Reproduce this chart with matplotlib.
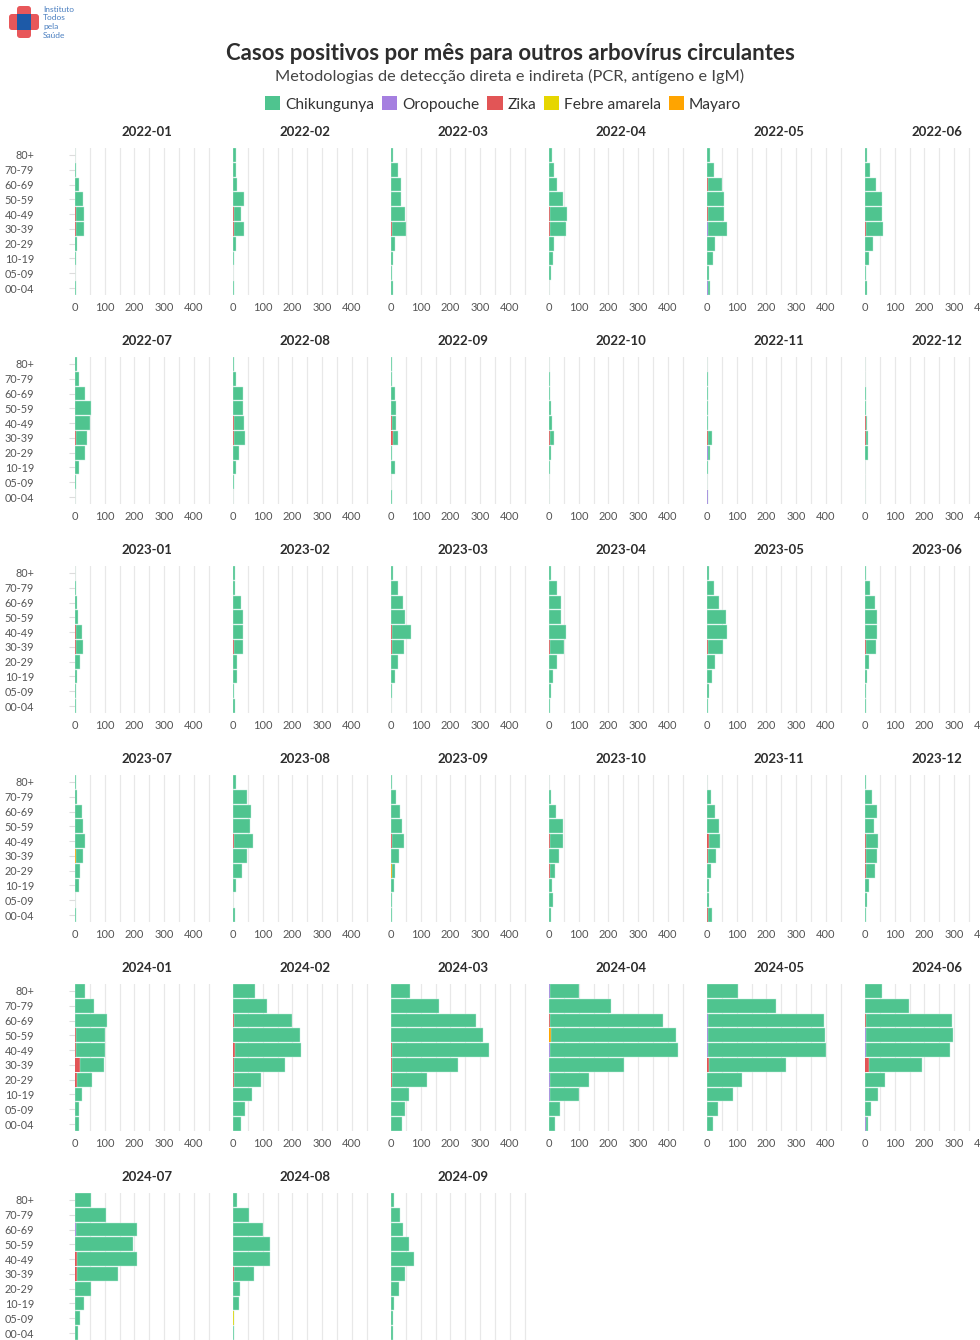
import matplotlib
matplotlib.use("Agg")
import matplotlib.pyplot as plt
from matplotlib.patches import FancyBboxPatch, Patch, Rectangle

plt.rcParams['font.family'] = ['Lato', 'DejaVu Sans']

# ---------------- data ----------------
AGES = ['80+', '70-79', '60-69', '50-59', '40-49', '30-39', '20-29', '10-19', '05-09', '00-04']
MONTHS = ['2022-01', '2022-02', '2022-03', '2022-04', '2022-05', '2022-06',
          '2022-07', '2022-08', '2022-09', '2022-10', '2022-11', '2022-12',
          '2023-01', '2023-02', '2023-03', '2023-04', '2023-05', '2023-06',
          '2023-07', '2023-08', '2023-09', '2023-10', '2023-11', '2023-12',
          '2024-01', '2024-02', '2024-03', '2024-04', '2024-05', '2024-06',
          '2024-07', '2024-08', '2024-09']

CHIKUNGUNYA = [
    [1, 3, 15, 28, 28, 26, 7, 4, 0, 3],
    [10, 10, 14, 37, 25, 33, 9, 4, 1, 3],
    [6, 22, 32, 32, 48, 49, 14, 8, 4, 6],
    [10, 18, 28, 48, 60, 55, 18, 12, 6, 1],
    [10, 22, 49, 56, 53, 65, 28, 20, 6, 8],
    [6, 16, 36, 58, 58, 57, 26, 12, 2, 6],
    [6, 14, 32, 54, 52, 40, 33, 14, 2, 1],
    [2, 10, 34, 32, 36, 35, 20, 10, 2, 1],
    [4, 2, 14, 18, 15, 18, 2, 12, 0, 4],
    [0, 2, 4, 6, 10, 13, 6, 4, 1, 1],
    [0, 4, 4, 3, 4, 13, 7, 2, 0, 2],
    [0, 0, 2, 4, 3, 7, 10, 0, 0, 1],
    [1, 2, 8, 10, 21, 24, 16, 6, 2, 2],
    [8, 6, 26, 34, 34, 29, 12, 14, 2, 6],
    [6, 22, 42, 46, 64, 42, 22, 12, 4, 1],
    [6, 26, 42, 42, 56, 47, 26, 12, 8, 4],
    [8, 24, 42, 64, 66, 52, 25, 16, 6, 2],
    [4, 16, 32, 42, 40, 36, 14, 6, 4, 2],
    [2, 6, 24, 28, 32, 24, 16, 12, 1, 2],
    [10, 46, 60, 58, 63, 46, 30, 10, 1, 8],
    [4, 16, 30, 36, 41, 26, 10, 10, 4, 4],
    [1, 8, 24, 46, 43, 34, 17, 10, 14, 6],
    [0, 12, 26, 42, 38, 28, 11, 8, 6, 14],
    [2, 24, 42, 30, 41, 38, 32, 12, 8, 4],
    [33, 65, 108, 96, 95, 79, 48, 25, 12, 12],
    [74, 116, 194, 226, 222, 169, 90, 64, 40, 28],
    [65, 160, 287, 309, 326, 220, 118, 61, 46, 36],
    [97, 208, 379, 421, 428, 252, 132, 99, 38, 19],
    [106, 231, 390, 392, 399, 259, 118, 87, 36, 20],
    [58, 149, 287, 294, 283, 179, 67, 45, 20, 8],
    [54, 103, 206, 196, 201, 140, 55, 29, 16, 11],
    [15, 54, 101, 124, 124, 66, 24, 20, 2, 3],
    [10, 30, 40, 60, 78, 47, 27, 10, 6, 6],
]

ZIKA = {
    '2022-01': [0, 0, 0, 0, 2, 5, 0, 0, 0, 0],
    '2022-02': [0, 0, 0, 0, 2, 5, 0, 0, 0, 0],
    '2022-03': [0, 0, 0, 0, 0, 3, 0, 0, 0, 0],
    '2022-04': [0, 0, 0, 0, 2, 3, 0, 0, 0, 0],
    '2022-05': [0, 0, 3, 0, 5, 0, 0, 0, 0, 0],
    '2022-06': [0, 0, 0, 0, 0, 3, 0, 0, 0, 0],
    '2022-07': [0, 0, 0, 0, 0, 2, 1, 0, 0, 0],
    '2022-08': [0, 0, 0, 0, 2, 5, 0, 0, 0, 0],
    '2022-09': [0, 0, 0, 0, 3, 6, 0, 0, 0, 0],
    '2022-10': [0, 0, 0, 0, 0, 3, 0, 0, 0, 0],
    '2022-11': [0, 0, 0, 0, 0, 2, 0, 0, 0, 0],
    '2022-12': [0, 0, 0, 0, 3, 3, 0, 0, 0, 0],
    '2023-01': [0, 0, 0, 0, 3, 4, 0, 0, 0, 0],
    '2023-02': [0, 0, 0, 0, 0, 3, 0, 0, 0, 0],
    '2023-03': [0, 0, 0, 0, 2, 2, 0, 0, 0, 0],
    '2023-04': [0, 0, 0, 0, 0, 3, 0, 0, 0, 0],
    '2023-05': [0, 0, 0, 0, 0, 2, 1, 0, 0, 0],
    '2023-06': [0, 0, 0, 0, 0, 2, 0, 0, 0, 0],
    '2023-08': [0, 0, 0, 0, 3, 0, 0, 0, 0, 0],
    '2023-09': [0, 0, 0, 0, 3, 0, 0, 0, 0, 0],
    '2023-10': [0, 0, 0, 0, 3, 0, 3, 0, 0, 0],
    '2023-11': [0, 0, 0, 0, 6, 2, 1, 0, 0, 4],
    '2023-12': [0, 0, 0, 0, 3, 4, 2, 0, 0, 0],
    '2024-01': [0, 0, 0, 4, 5, 18, 8, 0, 0, 0],
    '2024-02': [0, 0, 4, 0, 8, 5, 4, 0, 0, 0],
    '2024-03': [0, 0, 0, 0, 5, 4, 3, 0, 0, 0],
    '2024-04': [0, 0, 5, 0, 0, 0, 0, 0, 0, 0],
    '2024-05': [0, 0, 0, 0, 0, 8, 0, 0, 0, 0],
    '2024-06': [0, 0, 5, 0, 0, 14, 0, 0, 0, 0],
    '2024-07': [0, 0, 0, 0, 8, 6, 0, 0, 0, 0],
    '2024-08': [0, 0, 0, 0, 0, 5, 0, 0, 0, 0],
}

OROPOUCHE = {
    '2022-05': [0, 0, 0, 0, 0, 3, 0, 0, 0, 2],
    '2022-11': [0, 0, 0, 0, 0, 3, 3, 0, 0, 2],
    '2024-04': [3, 0, 0, 0, 5, 0, 3, 3, 0, 0],
    '2024-05': [0, 0, 3, 4, 3, 0, 0, 0, 0, 0],
    '2024-06': [0, 0, 0, 3, 2, 0, 0, 0, 0, 3],
    '2024-07': [0, 0, 4, 0, 0, 0, 0, 0, 0, 0],
}

FEBRE_AMARELA = {
    '2024-08': [0, 0, 0, 0, 0, 0, 0, 0, 2, 0],
}

MAYARO = {
    '2023-07': [0, 0, 0, 0, 0, 2, 0, 0, 0, 0],
    '2023-09': [0, 0, 0, 0, 0, 0, 2, 0, 0, 0],
    '2024-04': [0, 0, 0, 6, 0, 0, 0, 0, 0, 0],
}

SERIES = ['Chikungunya', 'Oropouche', 'Zika', 'Febre amarela', 'Mayaro']
COLORS = {'Chikungunya': '#4fc48f', 'Oropouche': '#a57fe0', 'Zika': '#e25556',
          'Febre amarela': '#e6d600', 'Mayaro': '#ffa400'}

XTICKS = [0, 50, 100, 150, 200, 250, 300, 350, 400, 450]
XTICKLABELS = ['0', '', '100', '', '200', '', '300', '', '400', '']

# ---------------- layout ----------------
W, H = 980, 1340
fig = plt.figure(figsize=(W / 100, H / 100), dpi=100)

bg = fig.add_axes([0, 0, 1, 1])
bg.set_xlim(0, W)
bg.set_ylim(H, 0)
bg.axis('off')

# logo
red = '#e8575a'
blue = '#1d5aa8'
bg.add_patch(FancyBboxPatch((17, 6), 14, 32, boxstyle='round,pad=0,rounding_size=3',
                            fc=red, ec='none'))
bg.add_patch(FancyBboxPatch((9, 14), 30, 16, boxstyle='round,pad=0,rounding_size=3',
                            fc=red, ec='none'))
bg.add_patch(Rectangle((17, 14), 14, 16, fc=blue, ec='none'))
for i, t in enumerate(['Instituto', 'Todos', 'pela', 'Saúde']):
    bg.text(43, 9 + i * 8.7, t, fontsize=6, color='#4a7fc0', ha='left', va='center')

bg.text(510, 54, 'Casos positivos por mês para outros arbovírus circulantes',
        fontsize=16, fontweight='bold', color='#2d2d2d', ha='center', va='center')
bg.text(510, 76, 'Metodologias de detecção direta e indireta (PCR, antígeno e IgM)',
        fontsize=11.8, color='#444444', ha='center', va='center')

handles = [Patch(facecolor=COLORS[s], edgecolor='none', label=s) for s in SERIES]
fig.legend(handles=handles, loc='center', bbox_to_anchor=(503 / W, 1 - 104 / H),
           ncol=5, frameon=False, fontsize=11.2, handlelength=1.0, handleheight=1.0,
           handletextpad=0.3, columnspacing=0.5, labelcolor='#333333')

COL_X0, COL_STEP, PANEL_W = 75, 158, 144
ROW_Y0, ROW_STEP, PANEL_H = 147.6, 209, 147.8
XMAX = 485
BAR_H = 0.93

stack_order = [('Mayaro', MAYARO), ('Febre amarela', FEBRE_AMARELA),
               ('Zika', ZIKA), ('Oropouche', OROPOUCHE)]

for i, month in enumerate(MONTHS):
    r, c = divmod(i, 6)
    x0 = COL_X0 + COL_STEP * c
    y0 = ROW_Y0 + ROW_STEP * r
    ax = fig.add_axes([x0 / W, 1 - (y0 + PANEL_H) / H, PANEL_W / W, PANEL_H / H])
    left = [0] * len(AGES)
    for name, table in stack_order:
        vals = table.get(month)
        if vals is None:
            continue
        ax.barh(AGES, vals, left=left, height=BAR_H, color=COLORS[name],
                edgecolor='none', linewidth=0, zorder=3)
        left = [a + b for a, b in zip(left, vals)]
    ax.barh(AGES, CHIKUNGUNYA[i], left=left, height=BAR_H, color=COLORS['Chikungunya'],
            edgecolor='#bfeedd', linewidth=0.3, zorder=3)
    ax.set_ylim(len(AGES) - 0.5, -0.5)
    ax.set_xlim(0, XMAX)
    ax.set_xticks(XTICKS)
    ax.set_xticklabels(XTICKLABELS)
    ax.grid(axis='x', color='#e8e8e8', linewidth=0.9, zorder=0)
    ax.set_axisbelow(True)
    for s in ax.spines.values():
        s.set_visible(False)
    ax.tick_params(axis='x', length=0, pad=5, labelsize=8, labelcolor='#555555')
    if c == 0:
        ax.tick_params(axis='y', length=4.5, width=0.8, color='#dddddd', pad=25,
                       labelsize=7.8, labelcolor='#555555')
    else:
        ax.tick_params(axis='y', length=0, labelleft=False)
    ax.set_facecolor('none')
    bg.text(x0 + PANEL_W / 2, ROW_Y0 - 15.6 + ROW_STEP * r, month, fontsize=9.5,
            fontweight='bold', color='#2d2d2d', ha='center', va='center')

fig.savefig('out.png', dpi=100)
